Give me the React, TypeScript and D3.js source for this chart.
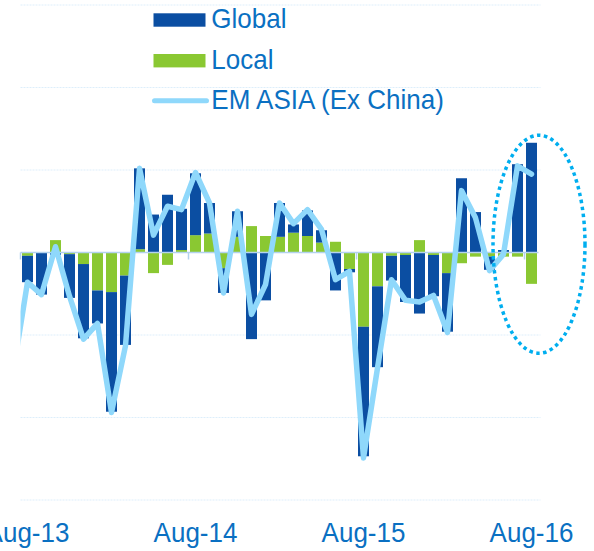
import React from "react";
import * as d3 from "d3";

// Monthly flows (units = one gridline step); categories are bar indices
const globalFlows = [-0.32, -0.51, -0.03, -0.53, -0.9, -0.4, -1.45, -0.84, 0.98, 0.46, 0.7, 0.5, 0.75, 0.37, -0.3, 0.31, -1.05, -0.58, 0.41, 0.1, 0.31, 0.15, -0.46, -0.04, -1.57, -0.98, -0.3, -0.57, -0.74, -0.5, -0.71, 0.9, 0.49, -0.16, 0.03, 1.07, 1.33];
const localFlows = [-0.04, 0, 0.15, -0.02, -0.14, -0.46, -0.48, -0.28, 0.04, -0.25, -0.15, 0.03, 0.21, 0.23, -0.19, 0.19, 0.32, 0.2, 0.19, 0.24, 0.2, 0.12, 0.13, -0.2, -0.9, -0.41, -0.04, -0.03, 0.15, -0.03, -0.25, -0.13, -0.05, -0.05, -0.05, -0.05, -0.38];
// EM ASIA (Ex China) line, first value is the month before the first bar
const emAsiaFlows = [-1.42, -0.36, -0.51, 0.07, -0.53, -1.05, -0.86, -1.94, -1.13, 1.02, 0.21, 0.56, 0.52, 0.97, 0.6, -0.49, 0.5, -0.75, -0.39, 0.6, 0.35, 0.52, 0.28, -0.33, -0.23, -2.49, -1.4, -0.33, -0.58, -0.6, -0.52, -0.97, 0.75, 0.42, -0.22, -0.02, 1.05, 0.95];
const axisLabels = ["Aug-13", "Aug-14", "Aug-15", "Aug-16"];
const axisLabelIndex = [0, 12, 24, 36];
const gridValues = [3, 2, 1, -1, -2, -3];
const legendItems = ["Global", "Local", "EM ASIA (Ex China)"];

const GLOBAL_COLOR = "#0B4EA2";
const LOCAL_COLOR = "#8AC832";
const LINE_COLOR = "#8FD8FB";
const TEXT_COLOR = "#0A70C2";
const STRETCH = 1.04;

export default function App() {
  const W = 594;
  const H = 551;
  const n = globalFlows.length;
  const x = d3.scaleLinear().domain([-0.5, n - 0.5]).range([20.5, 538.5]);
  const y = d3.scaleLinear().domain([-3, 3]).range([500, 5]);
  const barW = 11;

  const rows = globalFlows.map((g, i) => ({ i, local: localFlows[i], global: g }));
  const stack = d3.stack<any>().keys(["local", "global"]).offset(d3.stackOffsetDiverging);
  const series = stack(rows);
  const colors: Record<string, string> = { local: LOCAL_COLOR, global: GLOBAL_COLOR };

  const lineGen = d3
    .line<number>()
    .x((_, k) => x(k - 1))
    .y((d) => y(d));

  const tickIdx = [-0.5, 11.5, 23.5, 35.5];
  const font = "'Liberation Sans', Arial, sans-serif";

  return (
    <svg width={W} height={H} style={{ position: "absolute", left: 0, top: 0, background: "#fff" }}>
      <defs>
        <clipPath id="plotClip">
          <rect x={x(-0.5)} y={0} width={x(n - 0.5) - x(-0.5) + 10} height={H} />
        </clipPath>
      </defs>
      {gridValues.map((v) => (
        <line key={v} x1={x(-0.5)} x2={x(n - 0.5) + 2} y1={y(v)} y2={y(v)} stroke="#DDEEFB" strokeWidth={1} strokeDasharray="2 1" />
      ))}
      {series.map((s) => (
        <g key={s.key} fill={colors[s.key]}>
          {s.map((d: any, i: number) => {
            const y0 = y(d[0]);
            const y1 = y(d[1]);
            return <rect key={i} x={x(i) - barW / 2} y={Math.min(y0, y1)} width={barW} height={Math.abs(y1 - y0)} />;
          })}
        </g>
      ))}
      <line x1={x(-0.5)} x2={x(n - 0.5)} y1={y(0)} y2={y(0)} stroke="#B3D2EE" strokeWidth={1.5} />
      {tickIdx.map((t) => (
        <line key={t} x1={x(t)} x2={x(t)} y1={y(0)} y2={y(0) + 7} stroke="#B3D2EE" strokeWidth={1.5} />
      ))}
      <path
        d={lineGen(emAsiaFlows) || ""}
        fill="none"
        stroke={LINE_COLOR}
        strokeWidth={5.5}
        strokeLinejoin="round"
        strokeLinecap="round"
        clipPath="url(#plotClip)"
      />
      <ellipse
        cx={x(n - 1) + 7.5}
        cy={y(0.1)}
        rx={46}
        ry={109}
        fill="none"
        stroke="#00AEEF"
        strokeWidth={3.5}
        strokeDasharray="3.5 3.5"
      />
      {/* Legend */}
      <rect x={153.5} y={13.3} width={52} height={13.4} fill={GLOBAL_COLOR} />
      <rect x={153.5} y={54} width={52} height={13.4} fill={LOCAL_COLOR} />
      <line x1={154.5} x2={206.5} y1={100.7} y2={100.7} stroke={LINE_COLOR} strokeWidth={5} strokeLinecap="round" />
      {legendItems.map((t, k) => (
        <text
          key={t}
          transform={`translate(211.3,${28.3 + k * 40.5}) scale(1,${STRETCH})`}
          fill={TEXT_COLOR}
          fontFamily={font}
          fontSize={26}
        >
          {t}
        </text>
      ))}
      {axisLabels.map((t, k) => (
        <text
          key={t}
          transform={`translate(${x(axisLabelIndex[k])},541.7) scale(1,${STRETCH})`}
          fill={TEXT_COLOR}
          fontFamily={font}
          fontSize={26}
          textAnchor="middle"
        >
          {t}
        </text>
      ))}
    </svg>
  );
}
